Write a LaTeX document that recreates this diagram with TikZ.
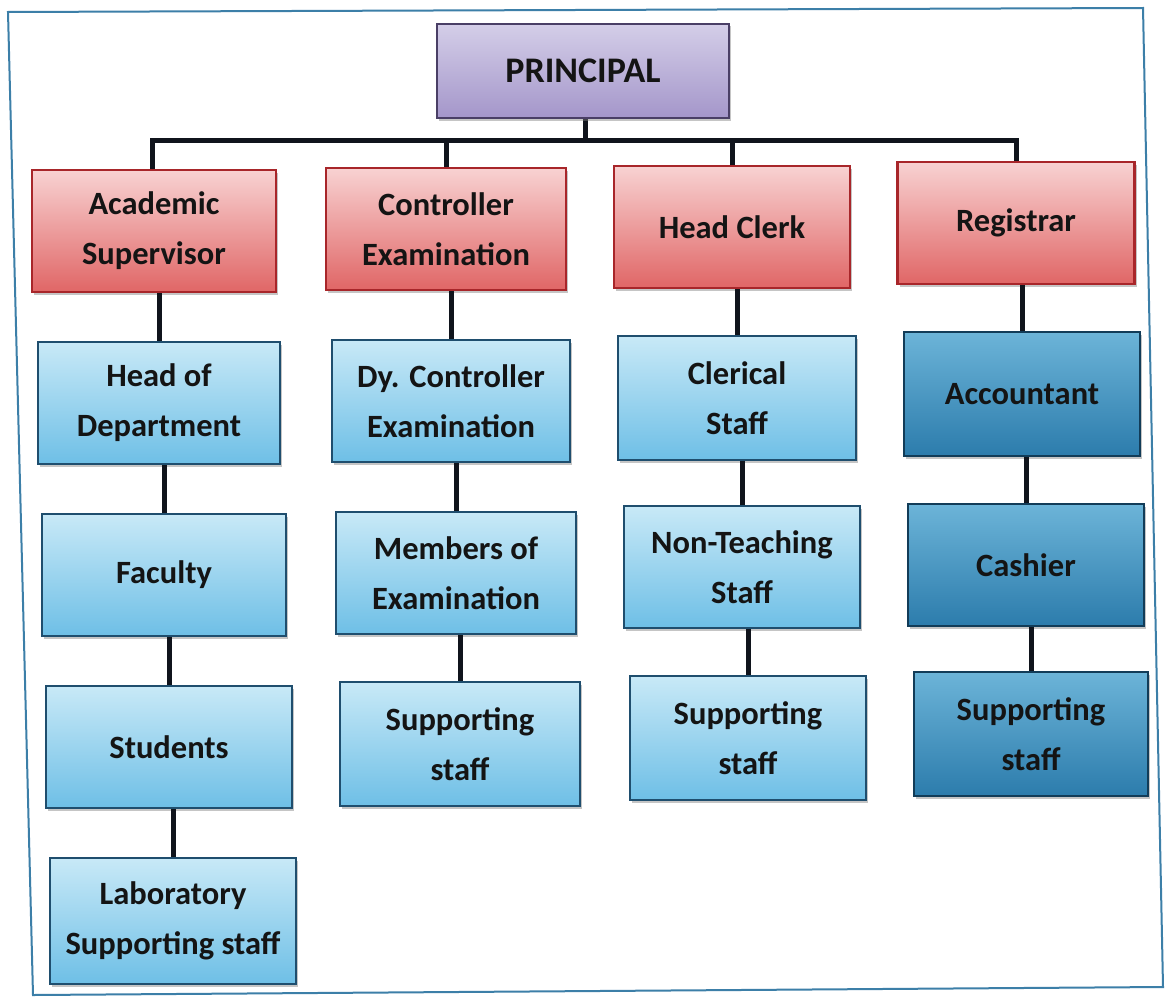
\documentclass[tikz,border=0pt]{standalone}
\usepackage{fontspec}
\setmainfont{Carlito}
\usetikzlibrary{shadows}
\definecolor{txt}{HTML}{141414}
\definecolor{frm}{HTML}{3C7FA8}
\definecolor{conn}{HTML}{10141C}
\definecolor{pdraw}{HTML}{4A3F66}
\definecolor{ptop}{HTML}{D4CEE8}
\definecolor{pbot}{HTML}{A496CA}
\definecolor{rdraw}{HTML}{A8262A}
\definecolor{rtop}{HTML}{F8D2D2}
\definecolor{rbot}{HTML}{E06666}
\definecolor{bdraw}{HTML}{1F4E6E}
\definecolor{btop}{HTML}{C8E9F7}
\definecolor{bbot}{HTML}{6EBFE6}
\definecolor{ddraw}{HTML}{123C58}
\definecolor{dtop}{HTML}{6CB4D8}
\definecolor{dbot}{HTML}{2C7CAC}
\tikzset{
  box/.style={draw, line width=2.2pt, rectangle, align=center, text=txt,
    inner sep=0pt,
    font=\bfseries\fontsize{32.5}{50}\selectfont,
    drop shadow={shadow xshift=2pt, shadow yshift=-2.5pt, opacity=0.45}},
  purplebox/.style={box, draw=pdraw, top color=ptop, bottom color=pbot},
  redbox/.style={box, draw=rdraw, top color=rtop, bottom color=rbot},
  bluebox/.style={box, draw=bdraw, top color=btop, bottom color=bbot},
  darkbox/.style={box, draw=ddraw, top color=dtop, bottom color=dbot},
  link/.style={draw=conn, line width=5pt}
}
\begin{document}
\begin{tikzpicture}[x=1pt,y=-1pt]
\useasboundingbox (0,0) rectangle (1166,998);
\fill[white] (0,0) rectangle (1166,998);
% frame
\draw[frm, line width=2pt] (8,12) -- (1143,8) -- (1163,987) -- (33,995) -- cycle;

% connectors (drawn first so boxes sit on top)
\coordinate (bus) at (585,140);
\coordinate (prinbot) at (585,118);
\path[link] (prinbot) -- (bus);
\path[link] (bus) -| (152,170);
\path[link] (bus) -| (446,168);
\path[link] (bus) -| (732,166);
\path[link] (bus) -| (1016,162);

% nodes
\node[purplebox, minimum width=292pt, minimum height=94pt, font=\bfseries\fontsize{36}{50}\selectfont] (prin) at (583,71) {PRINCIPAL};

\node[redbox, minimum width=244pt, minimum height=122pt] (as)  at (154,231) {Academic\\Supervisor};
\node[redbox, minimum width=240pt, minimum height=122pt] (ce)  at (446,229) {Controller\\Examination};
\node[redbox, minimum width=236pt, minimum height=122pt] (hc)  at (732,227) {Head Clerk};
\node[redbox, minimum width=237pt, minimum height=122pt] (reg) at (1016,223) {Registrar};

\node[bluebox, minimum width=242pt, minimum height=122pt] (hod) at (159,403) {Head of\\Department};
\node[bluebox, minimum width=238pt, minimum height=122pt] (dce) at (451,401) {Dy. Controller\\Examination};
\node[bluebox, minimum width=238pt, minimum height=124pt] (cs)  at (737,398) {Clerical\\Staff};
\node[darkbox, minimum width=236pt, minimum height=124pt] (acc) at (1022,394) {Accountant};

\node[bluebox, minimum width=244pt, minimum height=122pt] (fac)  at (164,575) {Faculty};
\node[bluebox, minimum width=240pt, minimum height=122pt] (moe)  at (456,573) {Members of\\Examination};
\node[bluebox, minimum width=236pt, minimum height=122pt] (nts)  at (742,567) {Non-Teaching\\Staff};
\node[darkbox, minimum width=236pt, minimum height=122pt] (cash) at (1026,565) {Cashier};

\node[bluebox, minimum width=246pt, minimum height=122pt] (stu) at (169,747) {Students};
\node[bluebox, minimum width=240pt, minimum height=124pt] (ssa) at (460,744) {Supporting\\staff};
\node[bluebox, minimum width=236pt, minimum height=124pt] (ssb) at (748,738) {Supporting\\staff};
\node[darkbox, minimum width=234pt, minimum height=124pt] (ssc) at (1031,734) {Supporting\\staff};

\node[bluebox, minimum width=246pt, minimum height=126pt] (lab) at (173,921) {Laboratory\\Supporting staff};

% vertical connectors
\path[link] (hod.north) -- (hod.north |- as.south);
\path[link] (fac.north) -- (fac.north |- hod.south);
\path[link] (stu.north) -- (stu.north |- fac.south);
\path[link] (lab.north) -- (lab.north |- stu.south);

\path[link] (dce.north) -- (dce.north |- ce.south);
\path[link] (moe.north) -- (moe.north |- dce.south);
\path[link] (ssa.north) -- (ssa.north |- moe.south);

\path[link] (cs.north) -- (cs.north |- hc.south);
\path[link] (nts.north) -- (nts.north |- cs.south);
\path[link] (ssb.north) -- (ssb.north |- nts.south);

\path[link] (acc.north) -- (acc.north |- reg.south);
\path[link] (cash.north) -- (cash.north |- acc.south);
\path[link] (ssc.north) -- (ssc.north |- cash.south);
\end{tikzpicture}
\end{document}
